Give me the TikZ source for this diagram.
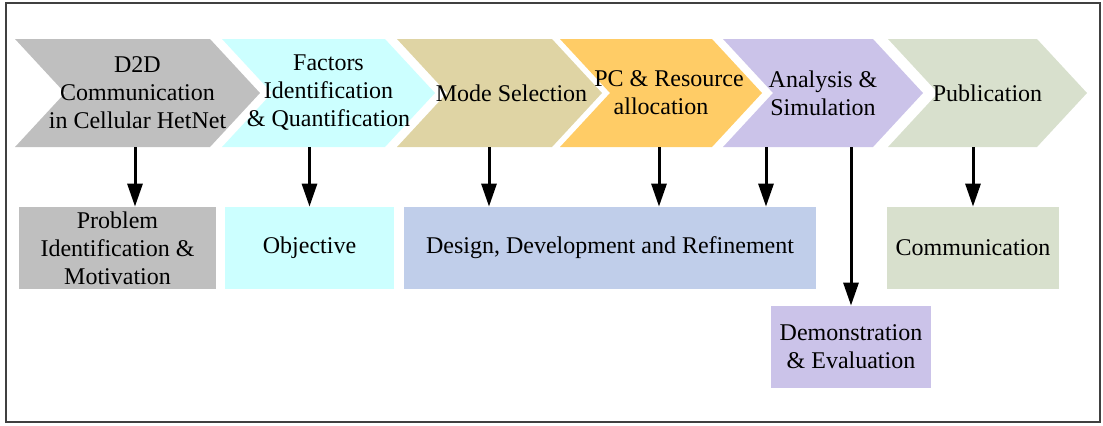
\documentclass[tikz,border=0pt]{standalone}
\usepackage{fontspec}
\setmainfont{Liberation Serif}
\usepackage{xcolor}
\usetikzlibrary{arrows.meta, positioning, calc}

\definecolor{probgray}{HTML}{BFBFBF}
\definecolor{objcyan}{HTML}{CCFFFF}
\definecolor{modetan}{HTML}{DFD4A4}
\definecolor{pcorange}{HTML}{FFCC66}
\definecolor{anapurple}{HTML}{CBC3E9}
\definecolor{ddrblue}{HTML}{C0CEEA}
\definecolor{pubgreen}{HTML}{D8E0CD}

\begin{document}
\begin{tikzpicture}[
    x=0.5pt, y=-0.5pt,
    chev/.style={rectangle, inner sep=0pt, minimum height=54pt, text centered, align=center, font=\fontsize{12}{14}\selectfont,
        path picture={\fill[#1] (path picture bounding box.north west) -- ([xshift=-25pt]path picture bounding box.north east) -- (path picture bounding box.east) -- ([xshift=-25pt]path picture bounding box.south east) -- (path picture bounding box.south west) -- ([xshift=25pt]path picture bounding box.west) -- cycle;}},
    outcome/.style={rectangle, inner sep=0pt, minimum height=41pt, text centered, align=center, font=\fontsize{12}{14}\selectfont},
    arrow/.style={-{Triangle[width=7.5pt,length=11.5pt]}, line width=1.5pt}
]
\useasboundingbox (0,0) rectangle (1103,425);
\draw[black!75, line width=0.75pt] (6,3) rectangle (1100,422);

\node[chev=probgray, minimum width=122.5pt] (d2d) at (137.5,93) {D2D\\Communication\\in Cellular HetNet};
\node[chev=objcyan, minimum width=106.5pt] (fact) at (328.5,93) {Factors\\Identification\\\& Quantification};
\node[chev=modetan, minimum width=102.5pt] (mode) at (499.5,93) {\hspace{12pt}Mode Selection};
\node[chev=pcorange, minimum width=101pt] (pc) at (661,93) {\hspace{8pt}PC \& Resource\\allocation};
\node[chev=anapurple, minimum width=100pt] (ana) at (823,93) {Analysis \&\\Simulation};
\node[chev=pubgreen, minimum width=99.5pt] (pub) at (987.5,93) {Publication};

\node[outcome, fill=probgray, minimum width=98.5pt] (prob) at (117.5,248) {Problem\\Identification \&\\Motivation};
\node[outcome, fill=objcyan, minimum width=84.5pt] (obj) at (309.5,248) {\raisebox{-1.5pt}{Objective}};
\node[outcome, fill=ddrblue, minimum width=206pt] (ddr) at (610,248) {\raisebox{-1.5pt}{Design, Development and Refinement}};
\node[outcome, fill=pubgreen, minimum width=86pt] (comm) at (973,248) {Communication};
\node[outcome, fill=anapurple, minimum width=80pt] (demo) at (851,347) {Demonstration\\\& Evaluation};

\draw[arrow] (d2d.south -| 135,0) -- (prob.north -| 135,0);
\draw[arrow] (fact.south -| obj.north) -- (obj.north);
\draw[arrow] (mode.south -| 489,0) -- (ddr.north -| 489,0);
\draw[arrow] (pc.south -| 659,0) -- (ddr.north -| 659,0);
\draw[arrow] (ana.south -| 766,0) -- (ddr.north -| 766,0);
\draw[arrow] (ana.south -| demo.north) -- (demo.north);
\draw[arrow] (pub.south -| comm.north) -- (comm.north);

\end{tikzpicture}
\end{document}
